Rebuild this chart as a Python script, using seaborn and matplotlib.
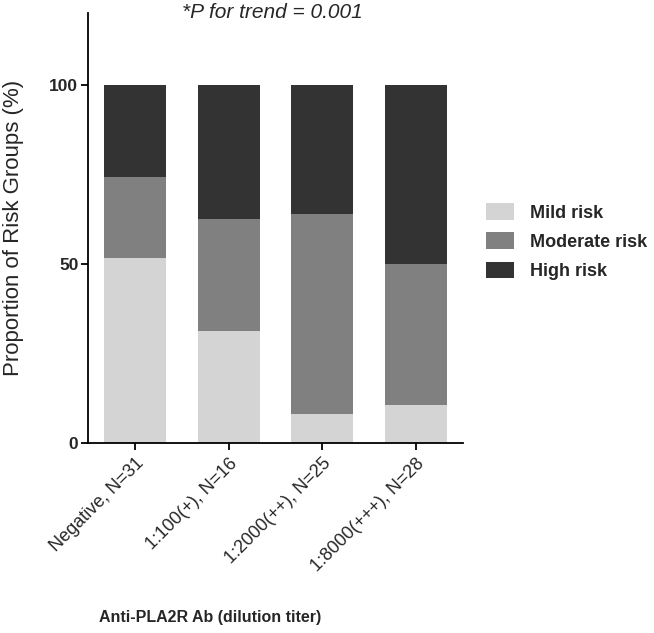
import matplotlib
matplotlib.use("Agg")
import matplotlib.pyplot as plt
import seaborn as sns
import pandas as pd
from matplotlib.patches import Patch

# -------------------------------
# Data (percent of each titer group)
# -------------------------------
categories = ["Negative, N=31", "1:100(+), N=16", "1:2000(++), N=25", "1:8000(+++), N=28"]
mild = [51.6, 31.3, 8.0, 10.7]
moderate = [22.6, 31.3, 56.0, 39.3]
high = [25.8, 37.5, 36.0, 50.0]

risk_names = ["Mild risk", "Moderate risk", "High risk"]
risk_colors = ["#d4d4d4", "#808080", "#333333"]

sns.set_style("ticks")
plt.rcParams["font.family"] = ["Liberation Sans", "DejaVu Sans"]

df = pd.DataFrame({"group": categories, "mild": mild, "moderate": moderate, "high": high})
df["top_mild"] = df["mild"]
df["top_moderate"] = df["mild"] + df["moderate"]
df["top_high"] = df["top_moderate"] + df["high"]

fig = plt.figure(figsize=(6.54, 6.33), dpi=100)
ax = fig.add_axes([0.1346, 0.300, 0.5734, 0.679])

# stacked bars: draw the tallest layer first
for col, color in zip(["top_high", "top_moderate", "top_mild"], risk_colors[::-1]):
    sns.barplot(data=df, x="group", y=col, color=color, width=0.66,
                saturation=1, edgecolor="none", linewidth=0, ax=ax)

ax.set_ylim(0, 120)
ax.set_xlim(-0.5, 3.5)
ax.set_yticks([0, 50, 100])
ax.set_xlabel("")
ax.set_ylabel("")
sns.despine(ax=ax)
for side in ["left", "bottom"]:
    ax.spines[side].set_linewidth(1.3)
    ax.spines[side].set_color("black")

ax.tick_params(axis="both", direction="out", length=5, width=1.3, color="black")
ax.tick_params(axis="y", labelsize=12.5, pad=2)
for lbl in ax.get_yticklabels():
    lbl.set_fontweight("bold")
ax.set_xticks(range(len(categories)))
ax.set_xticklabels(categories, rotation=45, ha="right", rotation_mode="anchor", fontsize=13)

fig.text(0.021, 0.64, "Proportion of Risk Groups (%)", rotation=90,
         ha="center", va="center", fontsize=16)
fig.text(0.321, 0.025, "Anti-PLA2R Ab (dilution titer)", ha="center", va="center",
         fontsize=11.5, fontweight="bold")
fig.text(0.416, 0.981, "*P for trend = 0.001", ha="center", va="center",
         fontsize=15, style="italic")

handles = [Patch(facecolor=c, edgecolor="none") for c in risk_colors]
leg = fig.legend(handles, risk_names, loc="upper left", bbox_to_anchor=(0.73, 0.693),
                 frameon=False, borderpad=0, handlelength=1.5, handleheight=1.0,
                 handletextpad=0.9, labelspacing=0.6,
                 prop={"size": 13, "weight": "bold"})

fig.savefig("out.png", dpi=100)
plt.close()
